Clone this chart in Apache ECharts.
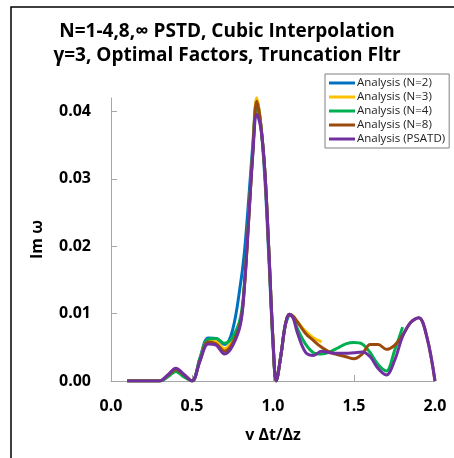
<!DOCTYPE html>
<html>
<head>
<meta charset="utf-8">
<script src="https://cdn.jsdelivr.net/npm/echarts@6/dist/echarts.min.js"></script>
<style>
  html, body { margin: 0; padding: 0; background: #fff; }
  #main { width: 454px; height: 458px; }
</style>
</head>
<body>
<div id="main"></div>
<script>
// v Δt/Δz 取样点
var vGrid = [0.1, 0.2, 0.3, 0.35, 0.4, 0.45, 0.5, 0.55, 0.6, 0.65, 0.7, 0.75, 0.8, 0.825, 0.85, 0.875,
    0.9, 0.925, 0.95, 0.975, 1.0, 1.02, 1.05, 1.075, 1.1, 1.125, 1.15, 1.2, 1.25, 1.3, 1.35, 1.4,
    1.45, 1.5, 1.55, 1.6, 1.65, 1.7, 1.75, 1.8, 1.85, 1.9, 1.95, 2.0];

var seriesNames = ['Analysis (N=2)', 'Analysis (N=3)', 'Analysis (N=4)', 'Analysis (N=8)', 'Analysis (PSATD)'];
var seriesColors = ['#0070C0', '#FFC000', '#00B050', '#9A4A0C', '#7030A0'];

// Im ω, each curve ends where its array ends
var imN2 = [0, 0, 0, 0.0007, 0.0016, 0.0008, 0, 0.0035, 0.0064, 0.0063, 0.0054, 0.0075, 0.0145, 0.0195,
    0.027, 0.035, 0.0418, 0.038, 0.03, 0.018, 0.0055, 0, 0.004, 0.0082, 0.0099];
var imN3 = [0, 0, 0, 0.0008, 0.0017, 0.0009, 0, 0.0032, 0.006, 0.0058, 0.0048, 0.006, 0.009, 0.0145,
    0.024, 0.034, 0.0421, 0.038, 0.031, 0.019, 0.006, 0, 0.004, 0.0082, 0.0099, 0.0096, 0.0088, 0.0074,
    0.0064, 0.0058];
var imN4 = [0, 0, 0, 0.0006, 0.0014, 0.0006, 0, 0.0034, 0.0062, 0.0063, 0.0056, 0.0065, 0.0095, 0.015,
    0.0245, 0.034, 0.041, 0.0378, 0.031, 0.019, 0.006, 0, 0.004, 0.0082, 0.0099, 0.0095, 0.0078, 0.0055,
    0.0042, 0.004, 0.0043, 0.0049, 0.0055, 0.0057, 0.0055, 0.0042, 0.0024, 0.0015, 0.0045, 0.008];
var imN8 = [0, 0, 0, 0.0008, 0.0017, 0.0009, 0, 0.0031, 0.0058, 0.0055, 0.0044, 0.0056, 0.0088, 0.0145,
    0.024, 0.034, 0.0415, 0.038, 0.031, 0.019, 0.006, 0, 0.004, 0.0082, 0.0099, 0.0096, 0.0088, 0.0071,
    0.006, 0.005, 0.0043, 0.0039, 0.0036, 0.0033, 0.004, 0.0054, 0.0054, 0.0047, 0.0053, 0.0068, 0.0087,
    0.0094, 0.0065, 0];
var imPSATD = [0, 0, 0, 0.0009, 0.0019, 0.001, 0, 0.003, 0.0055, 0.0053, 0.004, 0.0052, 0.0085, 0.0145,
    0.024, 0.0335, 0.0396, 0.0375, 0.031, 0.019, 0.006, 0, 0.004, 0.0082, 0.0099, 0.0093, 0.0072, 0.0043,
    0.0038, 0.0044, 0.0042, 0.0041, 0.0041, 0.0042, 0.0043, 0.0036, 0.0018, 0.0009, 0.003, 0.0066, 0.0087,
    0.0094, 0.0065, 0];

var xTicks = [0, 0.5, 1.0, 1.5, 2.0];
var yTicks = [0, 0.01, 0.02, 0.03, 0.04];

var FONT = '"Open Sans"';

function pairs(vals) {
    var out = [];
    for (var i = 0; i < vals.length; i++) {
        out.push([vGrid[i], vals[i]]);
    }
    return out;
}

var chart = echarts.init(document.getElementById('main'));
var allData = [imN2, imN3, imN4, imN8, imPSATD];
var series = [];
var legendData = [];
for (var k = 0; k < allData.length; k++) {
    series.push({
        name: seriesNames[k],
        type: 'line',
        data: pairs(allData[k]),
        smooth: 0.35,
        symbol: 'none',
        lineStyle: {color: seriesColors[k], width: 3},
        itemStyle: {color: seriesColors[k]}
    });
    legendData.push({name: seriesNames[k], icon: 'rect'});
}

chart.setOption({
    animation: false,
    title: {
        text: 'N=1-4,8,\u221e PSTD, Cubic Interpolation\n\u03b3=3, Optimal Factors, Truncation Fltr',
        left: 'center',
        top: 15,
        textStyle: {fontFamily: FONT, fontSize: 19, fontWeight: 'bold', color: '#000', lineHeight: 24}
    },
    graphic: [{
        type: 'rect',
        shape: {x: 11, y: 7, width: 500, height: 500},
        style: {fill: 'none', stroke: '#000', lineWidth: 1.5},
        silent: true
    }],
    legend: {
        orient: 'vertical',
        left: 325,
        top: 74,
        padding: [3, 4, 3, 4],
        itemGap: 2,
        itemWidth: 26,
        itemHeight: 3,
        backgroundColor: '#fff',
        borderColor: '#808080',
        borderWidth: 1,
        textStyle: {fontFamily: FONT, fontSize: 11.5, color: '#222', lineHeight: 12, padding: [0, 0, 0, -3]},
        data: legendData
    },
    grid: {left: 111, right: 19, top: 98, bottom: 77, outerBoundsMode: 'none'},
    xAxis: {
        type: 'value',
        min: 0,
        max: 2,
        interval: 0.5,
        name: 'v \u0394t/\u0394z',
        nameLocation: 'middle',
        nameGap: 46,
        nameTextStyle: {fontFamily: FONT, fontSize: 16, fontWeight: 'bold', color: '#000'},
        axisLine: {lineStyle: {color: '#A6A6A6', width: 1}},
        axisTick: {inside: true, length: 6, lineStyle: {color: '#A6A6A6'}},
        splitLine: {show: false},
        axisLabel: {
            margin: 17,
            fontFamily: FONT, fontSize: 16, fontWeight: 'bold', color: '#000',
            formatter: function (v) { return xTicks.indexOf(v) >= 0 ? v.toFixed(1) : ''; }
        }
    },
    yAxis: {
        type: 'value',
        min: 0,
        max: 0.042,
        interval: 0.01,
        name: 'Im \u03c9',
        nameLocation: 'middle',
        nameGap: 66,
        nameTextStyle: {fontFamily: FONT, fontSize: 16, fontWeight: 'bold', color: '#000'},
        axisLine: {show: true, lineStyle: {color: '#A6A6A6', width: 1}},
        axisTick: {show: true, inside: true, length: 6, lineStyle: {color: '#A6A6A6'}},
        splitLine: {show: false},
        axisLabel: {
            margin: 20,
            showMaxLabel: false,
            fontFamily: FONT, fontSize: 16, fontWeight: 'bold', color: '#000',
            formatter: function (v) {
                for (var i = 0; i < yTicks.length; i++) {
                    if (Math.abs(v - yTicks[i]) < 1e-9) return yTicks[i].toFixed(2);
                }
                return '';
            }
        }
    },
    series: series
});
</script>
</body>
</html>
